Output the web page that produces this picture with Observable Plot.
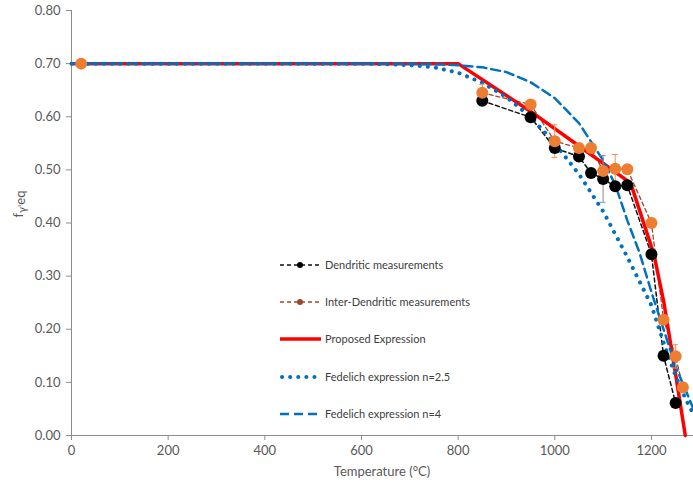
<!DOCTYPE html>
<html><head><meta charset="utf-8">
<script src="https://cdn.jsdelivr.net/npm/d3@7"></script>
<script src="https://cdn.jsdelivr.net/npm/@observablehq/plot@0.6"></script>
<style>
body{margin:0;background:#fff}
#wrap{position:relative;width:693px;height:491px;font-family:Lato,sans-serif}
#legend{position:absolute;left:0;top:0;pointer-events:none}
</style>
</head><body><div id="wrap"></div>
<script>
// ---- data ----
const xTicks = [0, 200, 400, 600, 800, 1000, 1200];
const yTicks = [0, 0.1, 0.2, 0.3, 0.4, 0.5, 0.6, 0.7, 0.8];

const dendT = [850, 950, 1000, 1050, 1075, 1100, 1125, 1150, 1200, 1225, 1250];
const dendF = [0.630, 0.599, 0.541, 0.525, 0.494, 0.483, 0.469, 0.471, 0.341, 0.150, 0.061];
const dendErrT = [1100];
const dendErrF = [0.483];
const dendErrE = [0.044];

const interT = [850, 950, 1000, 1050, 1075, 1100, 1125, 1150, 1200, 1225, 1250, 1265];
const interF = [0.645, 0.623, 0.554, 0.541, 0.541, 0.498, 0.502, 0.501, 0.400, 0.218, 0.149, 0.091];
const roomT = [20];
const roomF = [0.70];
const interErrT = [850, 1000, 1125, 1250];
const interErrF = [0.645, 0.554, 0.502, 0.149];
const interErrE = [0.016, 0.031, 0.027, 0.022];

const propT = [0, 800, 950, 1050, 1157, 1205, 1225, 1250, 1270];
const propF = [0.70, 0.70, 0.61, 0.545, 0.475, 0.341, 0.254, 0.115, 0.0];

const fed25T = [0, 600, 650, 700, 750, 800, 850, 900, 950, 1000, 1050, 1100, 1150, 1200, 1225, 1250, 1270, 1287];
const fed25F = [0.70, 0.70, 0.699, 0.697, 0.693, 0.683, 0.664, 0.637, 0.600, 0.550, 0.492, 0.422, 0.336, 0.245, 0.175, 0.112, 0.07, 0.04];

const fed4T = [0, 700, 750, 800, 850, 900, 950, 1000, 1050, 1100, 1125, 1150, 1175, 1200, 1225, 1250, 1287];
const fed4F = [0.70, 0.70, 0.699, 0.697, 0.693, 0.684, 0.665, 0.635, 0.588, 0.518, 0.472, 0.405, 0.345, 0.27, 0.2, 0.13, 0.05];

const legendLabels = ["Dendritic measurements", "Inter-Dendritic measurements", "Proposed Expression", "Fedelich expression n=2.5", "Fedelich expression n=4"];

// ---- build ----
const rows = (T, F) => T.map((t, i) => ({t, f: F[i]}));
const errRows = (T, F, E) => T.map((t, i) => ({t, f: F[i], e: E[i]}));

const BLUE = "#0070c0", RED = "#ff0000", ORANGE = "#ed7d31", BROWN = "#9b472c";
const dend = rows(dendT, dendF), inter = rows(interT, interF), room = rows(roomT, roomF);
const dErr = errRows(dendErrT, dendErrF, dendErrE), iErr = errRows(interErrT, interErrF, interErrE);

const chart = Plot.plot({
  width: 693, height: 491,
  marginLeft: 71, marginRight: 0, marginTop: 10, marginBottom: 56,
  style: {fontFamily: "Lato, sans-serif", fontSize: "13px", color: "#595959", background: "white"},
  x: {domain: [0, 1287], ticks: xTicks, tickFormat: d3.format("d"), tickSize: 5, tickPadding: 5, label: null},
  y: {domain: [0, 0.8], ticks: yTicks, tickFormat: d3.format(".2f"), tickSize: 5, tickPadding: 6, label: null},
  marks: [
    Plot.ruleX([0], {stroke: "#8c8c8c"}),
    Plot.ruleY([0], {stroke: "#8c8c8c"}),
    Plot.line(dend, {x: "t", y: "f", stroke: "#111", strokeWidth: 1.5, strokeDasharray: "4 3"}),
    Plot.line(inter, {x: "t", y: "f", stroke: BROWN, strokeWidth: 1.3, strokeDasharray: "4 3"}),
    Plot.line(rows(propT, propF), {x: "t", y: "f", stroke: RED, strokeWidth: 3.5}),
    Plot.line(rows(fed25T, fed25F), {x: "t", y: "f", stroke: BLUE, strokeWidth: 4, strokeDasharray: "0.1 8", strokeLinecap: "round"}),
    Plot.line(rows(fed4T, fed4F), {x: "t", y: "f", stroke: BLUE, strokeWidth: 2.5, strokeDasharray: "9 5"}),
    Plot.ruleX(dErr, {x: "t", y1: d => d.f - d.e, y2: d => d.f + d.e, stroke: "#8c8c8c", strokeWidth: 1}),
    Plot.ruleY(dErr, {y: d => d.f - d.e, x1: d => d.t - 6, x2: d => d.t + 6, stroke: "#8c8c8c", strokeWidth: 1}),
    Plot.ruleY(dErr, {y: d => d.f + d.e, x1: d => d.t - 6, x2: d => d.t + 6, stroke: "#8c8c8c", strokeWidth: 1}),
    Plot.ruleX(iErr, {x: "t", y1: d => d.f - d.e, y2: d => d.f + d.e, stroke: "#e8955a", strokeWidth: 1}),
    Plot.ruleY(iErr, {y: d => d.f - d.e, x1: d => d.t - 6, x2: d => d.t + 6, stroke: "#e8955a", strokeWidth: 1}),
    Plot.ruleY(iErr, {y: d => d.f + d.e, x1: d => d.t - 6, x2: d => d.t + 6, stroke: "#e8955a", strokeWidth: 1}),
    Plot.dot(dend, {x: "t", y: "f", r: 6, fill: "#000", stroke: "none"}),
    Plot.dot(inter.concat(room), {x: "t", y: "f", r: 6, fill: ORANGE, stroke: "none"})
  ]
});

const wrap = document.getElementById("wrap");
wrap.appendChild(chart);
const svg = d3.select(chart);
svg.selectAll('[aria-label="x-axis tick"], [aria-label="y-axis tick"]').attr("stroke", "#8c8c8c");

// axis titles
svg.append("text").attr("x", (71 + 693) / 2).attr("y", 476).attr("text-anchor", "middle")
  .attr("fill", "#595959").style("font-size", "13px").style("font-family", "Lato, sans-serif")
  .text("Temperature (°C)");
const yl = svg.append("text").attr("transform", "translate(23,204) rotate(-90)").attr("text-anchor", "middle")
  .attr("fill", "#595959").style("font-size", "13px").style("font-family", "Lato, sans-serif");
yl.append("tspan").text("f");
yl.append("tspan").attr("dy", 3).style("font-size", "11px").text("γ'");
yl.append("tspan").attr("dy", -1).text("eq");

// legend overlay
const lg = d3.select(wrap).append("svg").attr("id", "legend").attr("width", 693).attr("height", 491);
const ly = [265, 302, 339, 377, 414];
const x0 = 280, x1 = 320;
lg.append("line").attr("x1", x0).attr("x2", x1).attr("y1", ly[0]).attr("y2", ly[0]).attr("stroke", "#111").attr("stroke-width", 1.5).attr("stroke-dasharray", "4 3");
lg.append("circle").attr("cx", 300).attr("cy", ly[0]).attr("r", 3).attr("fill", "#000");
lg.append("line").attr("x1", x0).attr("x2", x1).attr("y1", ly[1]).attr("y2", ly[1]).attr("stroke", BROWN).attr("stroke-width", 1.3).attr("stroke-dasharray", "4 3");
lg.append("circle").attr("cx", 300).attr("cy", ly[1]).attr("r", 3).attr("fill", BROWN);
lg.append("line").attr("x1", x0).attr("x2", x1 + 1).attr("y1", ly[2]).attr("y2", ly[2]).attr("stroke", RED).attr("stroke-width", 3.5);
lg.append("line").attr("x1", x0 + 2).attr("x2", x1).attr("y1", ly[3]).attr("y2", ly[3]).attr("stroke", BLUE).attr("stroke-width", 4).attr("stroke-dasharray", "0.1 8").attr("stroke-linecap", "round");
lg.append("line").attr("x1", x0).attr("x2", x1).attr("y1", ly[4]).attr("y2", ly[4]).attr("stroke", BLUE).attr("stroke-width", 2.5).attr("stroke-dasharray", "9 5");
legendLabels.forEach((t, i) => {
  lg.append("text").attr("x", 325).attr("y", ly[i]).attr("dy", "0.35em").attr("fill", "#404040")
    .style("font-size", "11px").style("font-family", "Lato, sans-serif").text(t);
});
</script>
</body></html>
